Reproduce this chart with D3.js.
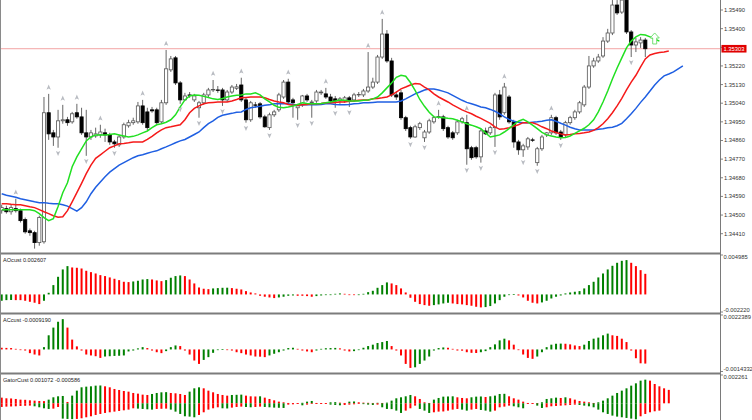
<!DOCTYPE html>
<html><head><meta charset="utf-8">
<script src="https://cdn.jsdelivr.net/npm/d3@7"></script>
<style>
html,body{margin:0;padding:0;background:#fff;}
svg{display:block;}
text{font-family:"Liberation Sans",Arial,sans-serif;}
</style></head><body>
<svg id="c" width="752" height="420"></svg>
<script>
// ---------- DATA ----------
const open = [1.34521,1.34531,1.34516,1.34531,1.34521,1.34478,1.34424,1.34415,1.34367,1.34371,
1.34994,1.34897,1.34877,1.34955,1.34960,1.34950,1.34994,1.34974,1.34897,1.34877,
1.34882,1.34887,1.34897,1.34887,1.34853,1.34839,1.34877,1.34931,1.34946,1.34950,
1.35027,1.34998,1.35008,1.35008,1.34950,1.35042,1.35201,1.35259,1.35138,1.35056,
1.35080,1.35056,1.35018,1.35042,1.35080,1.35104,1.35104,1.35104,1.35056,1.35094,
1.35112,1.35128,1.35056,1.34960,1.35032,1.35037,1.34974,1.34922,1.34984,1.35008,
1.35070,1.35142,1.35056,1.35018,1.35032,1.35075,1.35042,1.35051,1.35090,1.35085,
1.35070,1.35061,1.35051,1.35051,1.35066,1.35056,1.35080,1.35080,1.35099,1.35118,
1.35142,1.35263,1.35374,1.35244,1.35080,1.35090,1.34970,1.34922,1.34877,1.34922,
1.34873,1.34901,1.34950,1.34974,1.34974,1.34922,1.34897,1.34897,1.34950,1.34946,
1.34825,1.34825,1.34781,1.34906,1.34897,1.34922,1.35080,1.34994,1.35070,1.34950,
1.34853,1.34815,1.34829,1.34863,1.34753,1.34820,1.34887,1.34897,1.34970,1.34901,
1.34887,1.34946,1.34970,1.34998,1.35032,1.35118,1.35220,1.35244,1.35268,1.35340,
1.35379,1.35514,1.35480,1.35538,1.35384,1.35321,1.35331,1.35345];
const high = [1.34550,1.34545,1.34550,1.34579,1.34531,1.34488,1.34435,1.34424,1.34497,1.35070,
1.35085,1.34911,1.35008,1.35032,1.34974,1.34998,1.35037,1.35018,1.35008,1.34911,
1.34922,1.34936,1.34917,1.34897,1.34863,1.34887,1.34946,1.34960,1.34970,1.35046,
1.35056,1.35018,1.35022,1.35018,1.35056,1.35297,1.35268,1.35268,1.35147,1.35090,
1.35094,1.35085,1.35051,1.35090,1.35114,1.35152,1.35123,1.35114,1.35104,1.35128,
1.35133,1.35163,1.35066,1.35051,1.35046,1.35046,1.34984,1.34994,1.35008,1.35090,
1.35152,1.35158,1.35066,1.35037,1.35080,1.35085,1.35056,1.35104,1.35104,1.35114,
1.35085,1.35075,1.35070,1.35075,1.35075,1.35090,1.35094,1.35109,1.35287,1.35163,
1.35273,1.35447,1.35393,1.35259,1.35099,1.35104,1.34979,1.34931,1.34936,1.34950,
1.34911,1.34965,1.34979,1.35008,1.34984,1.34931,1.34906,1.34960,1.34974,1.34984,
1.34834,1.34834,1.34917,1.34922,1.34931,1.35090,1.35104,1.35138,1.35080,1.34960,
1.34863,1.34844,1.34877,1.34873,1.34829,1.34887,1.34901,1.34984,1.34979,1.34911,
1.34955,1.34979,1.35008,1.35051,1.35128,1.35268,1.35259,1.35278,1.35359,1.35399,
1.35538,1.35538,1.35552,1.35562,1.35393,1.35355,1.35359,1.35355];
const low = [1.34507,1.34507,1.34502,1.34512,1.34464,1.34410,1.34400,1.34338,1.34352,1.34362,
1.34863,1.34834,1.34825,1.34941,1.34931,1.34941,1.34965,1.34887,1.34786,1.34863,
1.34873,1.34873,1.34853,1.34839,1.34825,1.34829,1.34868,1.34922,1.34936,1.34941,
1.34936,1.34911,1.34994,1.34936,1.34941,1.35032,1.35191,1.35128,1.35037,1.35051,
1.35066,1.35046,1.34970,1.35032,1.35070,1.35094,1.35090,1.35027,1.35046,1.35085,
1.35104,1.35046,1.34946,1.34950,1.35018,1.34965,1.34922,1.34911,1.34974,1.34998,
1.35061,1.35037,1.34970,1.34960,1.35022,1.35046,1.34970,1.35042,1.35080,1.35061,
1.35042,1.35018,1.35037,1.35042,1.35022,1.35046,1.35070,1.35070,1.35090,1.35109,
1.35133,1.35254,1.35235,1.35070,1.35056,1.34960,1.34906,1.34868,1.34873,1.34911,
1.34853,1.34892,1.34941,1.34965,1.34906,1.34868,1.34863,1.34887,1.34941,1.34743,
1.34767,1.34772,1.34753,1.34887,1.34887,1.34829,1.34960,1.34984,1.34941,1.34825,
1.34791,1.34781,1.34815,1.34853,1.34738,1.34810,1.34877,1.34887,1.34887,1.34863,
1.34877,1.34936,1.34960,1.34989,1.35022,1.35109,1.35211,1.35235,1.35259,1.35331,
1.35369,1.35466,1.35471,1.35374,1.35263,1.35287,1.35307,1.35263];
const close = [1.34536,1.34516,1.34536,1.34521,1.34473,1.34419,1.34415,1.34367,1.34488,1.34994,
1.34892,1.34877,1.34955,1.34960,1.34946,1.34989,1.34974,1.34897,1.34877,1.34897,
1.34892,1.34901,1.34887,1.34853,1.34844,1.34877,1.34936,1.34946,1.34955,1.35027,
1.34946,1.34922,1.35003,1.34946,1.35042,1.35206,1.35254,1.35138,1.35056,1.35075,
1.35078,1.35075,1.35042,1.35080,1.35104,1.35106,1.35102,1.35056,1.35094,1.35118,
1.35119,1.35056,1.34960,1.35042,1.35030,1.34974,1.34926,1.34984,1.34998,1.35080,
1.35142,1.35046,1.35042,1.35027,1.35075,1.35056,1.35046,1.35094,1.35094,1.35070,
1.35051,1.35051,1.35061,1.35066,1.35051,1.35080,1.35082,1.35099,1.35118,1.35142,
1.35263,1.35374,1.35244,1.35080,1.35070,1.34970,1.34917,1.34877,1.34926,1.34941,
1.34901,1.34955,1.34970,1.34976,1.34917,1.34877,1.34873,1.34950,1.34965,1.34820,
1.34777,1.34781,1.34906,1.34892,1.34922,1.35080,1.34974,1.35118,1.34950,1.34853,
1.34815,1.34834,1.34868,1.34861,1.34820,1.34877,1.34897,1.34970,1.34897,1.34877,
1.34946,1.34970,1.34998,1.35042,1.35118,1.35220,1.35244,1.35263,1.35340,1.35379,
1.35514,1.35476,1.35538,1.35384,1.35321,1.35336,1.35345,1.35303];

// Alligator lines (displayed with their forward shift, so they extend past the last bar)
const jaw = [1.34603,1.34596,1.34591,1.34586,1.34579,1.34574,1.34569,1.34564,1.34560,1.34560,
1.34557,1.34555,1.34555,1.34550,1.34543,1.34531,1.34519,1.34536,1.34564,1.34603,
1.34634,1.34660,1.34685,1.34707,1.34724,1.34741,1.34753,1.34765,1.34777,1.34786,
1.34791,1.34798,1.34805,1.34810,1.34820,1.34829,1.34839,1.34849,1.34858,1.34865,
1.34877,1.34889,1.34901,1.34922,1.34941,1.34955,1.34972,1.34982,1.34987,1.34991,
1.34996,1.34998,1.35010,1.35018,1.35022,1.35025,1.35030,1.35032,1.35037,1.35037,
1.35037,1.35037,1.35034,1.35032,1.35032,1.35032,1.35032,1.35032,1.35034,1.35037,
1.35037,1.35034,1.35032,1.35032,1.35034,1.35037,1.35039,1.35042,1.35042,1.35044,
1.35046,1.35046,1.35046,1.35046,1.35046,1.35051,1.35061,1.35073,1.35085,1.35094,
1.35104,1.35109,1.35109,1.35104,1.35097,1.35090,1.35078,1.35066,1.35054,1.35044,
1.35037,1.35030,1.35022,1.35018,1.35010,1.35001,1.34989,1.34974,1.34962,1.34953,
1.34948,1.34946,1.34946,1.34948,1.34950,1.34953,1.34958,1.34960,1.34953,1.34943,
1.34934,1.34924,1.34917,1.34911,1.34911,1.34911,1.34911,1.34914,1.34917,1.34922,
1.34924,1.34931,1.34943,1.34965,1.34989,1.35015,1.35044,1.35070,1.35099,1.35128,
1.35152,1.35172,1.35181,1.35191,1.35206,1.35220];
const teeth = [1.34555,1.34555,1.34552,1.34550,1.34550,1.34545,1.34540,1.34536,1.34526,1.34516,
1.34507,1.34497,1.34490,1.34492,1.34521,1.34564,1.34608,1.34653,1.34700,1.34741,
1.34774,1.34791,1.34808,1.34825,1.34834,1.34844,1.34846,1.34849,1.34853,1.34853,
1.34853,1.34865,1.34880,1.34897,1.34911,1.34922,1.34926,1.34931,1.34936,1.34960,
1.34994,1.35015,1.35027,1.35037,1.35042,1.35044,1.35046,1.35046,1.35046,1.35051,
1.35058,1.35066,1.35068,1.35070,1.35070,1.35070,1.35066,1.35058,1.35051,1.35046,
1.35042,1.35034,1.35030,1.35030,1.35032,1.35034,1.35037,1.35037,1.35039,1.35042,
1.35042,1.35044,1.35046,1.35046,1.35049,1.35051,1.35054,1.35056,1.35056,1.35061,
1.35063,1.35066,1.35070,1.35080,1.35094,1.35109,1.35118,1.35128,1.35135,1.35133,
1.35118,1.35104,1.35085,1.35070,1.35058,1.35046,1.35032,1.35020,1.35008,1.34998,
1.34989,1.34977,1.34967,1.34955,1.34943,1.34926,1.34914,1.34917,1.34922,1.34929,
1.34936,1.34946,1.34946,1.34946,1.34938,1.34926,1.34917,1.34906,1.34899,1.34892,
1.34887,1.34889,1.34892,1.34894,1.34897,1.34901,1.34909,1.34922,1.34941,1.34965,
1.34994,1.35027,1.35063,1.35104,1.35142,1.35175,1.35215,1.35254,1.35273,1.35280,
1.35285,1.35287,1.35292];
const lips = [1.34526,1.34526,1.34526,1.34526,1.34526,1.34526,1.34526,1.34521,1.34507,1.34488,
1.34473,1.34483,1.34541,1.34608,1.34656,1.34733,1.34781,1.34820,1.34858,1.34877,
1.34887,1.34887,1.34887,1.34889,1.34892,1.34887,1.34882,1.34877,1.34880,1.34887,
1.34897,1.34906,1.34922,1.34936,1.34941,1.34948,1.34960,1.34984,1.35022,1.35056,
1.35075,1.35080,1.35078,1.35073,1.35068,1.35061,1.35058,1.35063,1.35070,1.35075,
1.35078,1.35080,1.35085,1.35085,1.35090,1.35080,1.35061,1.35046,1.35030,1.35020,
1.35018,1.35022,1.35027,1.35034,1.35042,1.35039,1.35037,1.35037,1.35039,1.35042,
1.35046,1.35051,1.35056,1.35054,1.35051,1.35051,1.35051,1.35054,1.35056,1.35061,
1.35070,1.35090,1.35114,1.35138,1.35165,1.35175,1.35170,1.35140,1.35102,1.35058,
1.35025,1.34996,1.34974,1.34972,1.34970,1.34967,1.34965,1.34958,1.34950,1.34941,
1.34934,1.34926,1.34917,1.34897,1.34877,1.34882,1.34887,1.34901,1.34917,1.34936,
1.34953,1.34962,1.34950,1.34934,1.34917,1.34899,1.34887,1.34882,1.34877,1.34873,
1.34875,1.34882,1.34894,1.34906,1.34919,1.34936,1.34960,1.34998,1.35046,1.35099,
1.35157,1.35210,1.35259,1.35307,1.35340,1.35360,1.35372,1.35369,1.35360,1.35350,
1.35340];

const fractalUp = [3,10,13,16,21,30,35,45,51,61,69,78,81,93,99,107,117];
const fractalDown = [12,18,24,38,42,47,52,57,63,66,71,74,87,90,99,102,105,111,114,119,134];
const signalUpIndex = [139];
const signalUpPrice = [1.35326];
const bidPrice = 1.35303;
const priceTicks = [1.34410,1.34500,1.34590,1.34680,1.34770,1.34860,1.34950,1.35040,1.35130,1.35220,1.35310,1.35400,1.35490];

const ao = [-0.00080,-0.00072,-0.00070,-0.00072,-0.00072,-0.00080,-0.00093,-0.00105,-0.00122,-0.00080,
0.00021,0.00118,0.00223,0.00316,0.00358,0.00341,0.00337,0.00328,0.00299,0.00282,
0.00265,0.00244,0.00232,0.00215,0.00198,0.00181,0.00160,0.00156,0.00164,0.00173,
0.00189,0.00194,0.00189,0.00177,0.00168,0.00181,0.00211,0.00232,0.00240,0.00232,
0.00189,0.00139,0.00088,0.00072,0.00067,0.00076,0.00080,0.00084,0.00085,0.00080,
0.00072,0.00063,0.00042,0.00025,0.00013,-0.00017,-0.00029,-0.00038,-0.00046,-0.00038,
-0.00029,-0.00017,-0.00013,-0.00017,-0.00017,-0.00021,-0.00029,-0.00021,-0.00013,-0.00008,
-0.00004,0.00008,0.00013,0.00008,-0.00004,-0.00008,-0.00004,0.00008,0.00029,0.00046,
0.00084,0.00118,0.00152,0.00139,0.00118,0.00076,0.00025,-0.00042,-0.00093,-0.00122,
-0.00135,-0.00143,-0.00135,-0.00126,-0.00114,-0.00105,-0.00114,-0.00122,-0.00126,-0.00135,
-0.00143,-0.00156,-0.00164,-0.00160,-0.00147,-0.00114,-0.00072,-0.00029,-0.00004,0.00002,
-0.00013,-0.00038,-0.00080,-0.00105,-0.00114,-0.00101,-0.00080,-0.00051,-0.00029,-0.00013,
0.00013,0.00025,0.00034,0.00042,0.00076,0.00118,0.00160,0.00215,0.00265,0.00316,
0.00362,0.00400,0.00425,0.00434,0.00400,0.00358,0.00307,0.002607];
const ac = [0.00011,0.00010,0.00009,0.00004,-0.00004,-0.00007,-0.00024,-0.00033,-0.00039,0.00015,
0.00092,0.00142,0.00180,0.00197,0.00142,0.00064,0.00020,-0.00007,-0.00033,-0.00039,
-0.00044,-0.00055,-0.00046,-0.00044,-0.00042,-0.00041,-0.00039,-0.00013,-0.00007,0.00007,
0.00015,0.00009,-0.00007,-0.00018,-0.00024,-0.00011,0.00015,0.00026,0.00022,-0.00007,
-0.00033,-0.00072,-0.00094,-0.00068,-0.00050,-0.00022,-0.00004,0.00002,-0.00002,-0.00007,
-0.00018,-0.00024,-0.00033,-0.00039,-0.00046,-0.00047,-0.00050,-0.00039,-0.00028,-0.00018,
-0.00007,0.00009,0.00011,0.00004,-0.00007,-0.00013,-0.00018,-0.00007,0.00004,0.00008,
0.00009,0.00010,0.00007,-0.00007,-0.00013,-0.00011,-0.00004,0.00011,0.00022,0.00031,
0.00042,0.00048,0.00055,0.00022,-0.00007,-0.00039,-0.00094,-0.00120,-0.00116,-0.00094,
-0.00072,-0.00046,-0.00007,0.00009,0.00013,0.00011,0.00004,-0.00007,-0.00008,-0.00018,
-0.00022,-0.00023,-0.00018,-0.00011,0.00015,0.00033,0.00059,0.00070,0.00059,0.00031,
-0.00002,-0.00033,-0.00055,-0.00061,-0.00046,-0.00018,0.00015,0.00031,0.00037,0.00038,
0.00037,0.00033,0.00026,0.00022,0.00031,0.00055,0.00070,0.00077,0.00092,0.00103,
0.00092,0.00088,0.00070,0.00048,-0.00007,-0.00057,-0.00090,-0.000919];
const gatorUp = [0.000452,0.000399,0.000386,0.000346,0.000293,0.000279,0.000239,0.000213,0.000186,0.000173,
0.000293,0.000479,0.000559,0.000585,0.000106,0.000612,0.001011,0.001277,0.00133,0.001357,
0.00141,0.001423,0.001357,0.001277,0.001144,0.001064,0.000984,0.000931,0.000825,0.000771,
0.000692,0.000665,0.000745,0.000825,0.000878,0.000891,0.000825,0.000798,0.000745,0.000665,
0.000931,0.001197,0.001277,0.001197,0.001011,0.000878,0.000745,0.000665,0.000612,0.000665,
0.000678,0.000692,0.000612,0.000559,0.000545,0.000559,0.000452,0.000346,0.000239,0.000133,
0.00008,0.000027,0.000021,0.000016,0.00004,0.000133,0.000186,0.000027,0.000021,0.000016,
0.00008,0.000093,0.000053,0.000027,0.000133,0.000146,0.00008,0.000053,0.00004,0.000027,
0.00004,0.000027,0.000053,0.000213,0.000399,0.000479,0.000559,0.000665,0.000559,0.000346,
0.00008,0.000027,0.000293,0.000426,0.000532,0.000545,0.000559,0.000479,0.000426,0.000399,
0.000479,0.000532,0.000545,0.000505,0.000559,0.000612,0.000745,0.000758,0.000559,0.000399,
0.000293,0.000133,0.000027,0.000021,0.000016,0.00008,0.000346,0.000399,0.000452,0.000426,
0.000479,0.000399,0.000293,0.000186,0.000133,0.00008,0.000027,0.00008,0.000213,0.000399,
0.000612,0.000825,0.001011,0.001197,0.00141,0.001596,0.001809,0.001889,0.001809,0.001543,
0.001357,0.001197,0.001072];
const gatorDown = [-0.000293,-0.000266,-0.000253,-0.000239,-0.000213,-0.0002,-0.000186,-0.000239,-0.000319,-0.000399,
-0.000452,-0.000426,-0.000293,-0.001224,-0.00125,-0.001264,-0.00125,-0.001197,-0.001117,-0.001037,
-0.000931,-0.000851,-0.000771,-0.000718,-0.000665,-0.000612,-0.000559,-0.000505,-0.000399,-0.000426,
-0.000452,-0.000479,-0.000505,-0.000452,-0.000439,-0.000426,-0.000505,-0.000665,-0.000851,-0.001037,
-0.001064,-0.001117,-0.000931,-0.000718,-0.000505,-0.000399,-0.000319,-0.000399,-0.000412,-0.000346,
-0.000293,-0.000266,-0.000293,-0.000319,-0.000293,-0.000266,-0.000293,-0.000319,-0.000346,-0.000359,
-0.000372,-0.000106,-0.00008,-0.000053,-0.00016,-0.000106,-0.000053,-0.00004,-0.000027,-0.000021,
-0.000106,-0.000133,-0.00016,-0.000133,-0.000106,-0.00008,-0.000053,-0.000067,-0.000106,-0.000133,
-0.000106,-0.000319,-0.000452,-0.000466,-0.000585,-0.000771,-0.000585,-0.000399,-0.000186,-0.000452,
-0.000585,-0.000771,-0.000718,-0.000665,-0.000652,-0.000585,-0.000505,-0.000452,-0.000505,-0.000585,
-0.000505,-0.000452,-0.000532,-0.000585,-0.000665,-0.000585,-0.000319,-0.000266,-0.000186,-0.000239,
-0.000319,-0.000399,-0.000053,-0.00004,-0.000186,-0.000372,-0.000319,-0.000239,-0.000213,-0.000186,
-0.00016,-0.000133,-0.000106,-0.000133,-0.000186,-0.000239,-0.000319,-0.000505,-0.000718,-0.000851,
-0.000984,-0.001064,-0.001117,-0.00117,-0.001224,-0.001277,-0.001037,-0.000851,-0.000718,-0.000638,
-0.000586];
const aoScaleLabels = [0.004985,-0.002220];
const acScaleLabels = [0.0022389,-0.0014332];
const gatorScaleLabels = [0.002261];

// ---------- DRAW ----------
const svg = d3.select("#c");
const AX = 720.5;
const GREEN = "#008000", RED = "#ff0000";
const x = d3.scaleLinear().domain([0, 137]).range([1.7, 645.3]);
const y = d3.scaleLinear().domain([1.34410, 1.35490]).range([233.7, 10]);
const yAO = d3.scaleLinear().domain([aoScaleLabels[1], aoScaleLabels[0]]).range([312, 255]);
const yAC = d3.scaleLinear().domain([acScaleLabels[1], acScaleLabels[0]]).range([371.5, 315]);
const yG = d3.scaleLinear().domain([0, gatorScaleLabels[0]]).range([403.3, 375]);

const defs = svg.append("defs");
defs.append("clipPath").attr("id","cm").append("rect").attr("x",0).attr("y",0).attr("width",AX).attr("height",252.5);
defs.append("clipPath").attr("id","cs").append("rect").attr("x",0).attr("y",254).attr("width",AX).attr("height",170);

const main = svg.append("g").attr("clip-path","url(#cm)");

// bid line
main.append("line").attr("x1",0).attr("x2",AX).attr("y1",y(bidPrice)).attr("y2",y(bidPrice))
  .attr("stroke","#f3a3a3").attr("stroke-width",1);

// candles
const idx = d3.range(open.length);
main.append("g").selectAll("line").data(idx).join("line")
  .attr("x1",i=>x(i)).attr("x2",i=>x(i))
  .attr("y1",i=>y(high[i])).attr("y2",i=>y(low[i]))
  .attr("stroke","#555").attr("stroke-width",0.9);
main.append("g").selectAll("rect").data(idx).join("rect")
  .attr("x",i=>x(i)-1.6).attr("width",3.2)
  .attr("y",i=>y(Math.max(open[i],close[i])))
  .attr("height",i=>Math.max(0.3, Math.abs(y(open[i])-y(close[i]))))
  .attr("fill",i=>close[i]>=open[i]?"#fff":"#000")
  .attr("stroke",i=>close[i]>=open[i]?"#555":"#000")
  .attr("stroke-width",0.8);

// alligator
const ln = d3.line().x((d,i)=>x(i)).y(d=>y(d));
[[jaw,"#1f5fe2"],[teeth,"#f51a1a"],[lips,"#22e022"]].forEach(([arr,col])=>{
  main.append("path").attr("d",ln(arr)).attr("fill","none").attr("stroke",col).attr("stroke-width",1.5);
});

// fractals
main.append("g").selectAll("path").data(fractalUp).join("path")
  .attr("transform",i=>`translate(${x(i)},${y(high[i])-6.5})`)
  .attr("d","M0,-2.8 L2.2,2.3 L0,1.2 L-2.2,2.3 Z")
  .attr("fill","#b9bcc2");
main.append("g").selectAll("path").data(fractalDown).join("path")
  .attr("transform",i=>`translate(${x(i)},${y(low[i])+5.5})`)
  .attr("d","M0,2.8 L2.2,-2.3 L0,-1.2 L-2.2,-2.3 Z")
  .attr("fill","#b9bcc2");

// signal arrow
main.append("g").selectAll("path").data(signalUpIndex).join("path")
  .attr("transform",(d,k)=>`translate(${x(d)},${y(signalUpPrice[k])})`)
  .attr("d","M0,-11 L4.6,-6 L2,-6 L2,0 L-2,0 L-2,-6 L-4.6,-6 Z")
  .attr("fill","#fff").attr("stroke","#66dd66").attr("stroke-width",0.9);

// sub-panels
const sub = svg.append("g").attr("clip-path","url(#cs)");
function colorsUp(v){ return v.map((d,i)=> i===0 ? (v[1]>v[0]?GREEN:RED) : (d>v[i-1]?GREEN:RED)); }
function colorsAbs(v){ return v.map((d,i)=> i===0 ? (Math.abs(v[1])>Math.abs(v[0])?GREEN:RED) : (Math.abs(d)>Math.abs(v[i-1])?GREEN:RED)); }
function bars(vals, ys, cols){
  const z = ys(0);
  sub.append("g").selectAll("rect").data(vals).join("rect")
    .attr("x",(d,i)=>x(i)-1).attr("width",2)
    .attr("y",d=>Math.min(z,ys(d)))
    .attr("height",d=>Math.max(0.7,Math.abs(ys(d)-z)))
    .attr("fill",(d,i)=>cols[i]);
}
bars(ao, yAO, colorsUp(ao));
bars(ac, yAC, colorsUp(ac));
bars(gatorUp, yG, colorsUp(gatorUp));
bars(gatorDown, yG, colorsAbs(gatorDown));

// separators, frame, axis
[253.5, 313.5, 373.5].forEach(yy=>{
  svg.append("line").attr("x1",0).attr("x2",AX).attr("y1",yy).attr("y2",yy).attr("stroke","#7c7c7c").attr("stroke-width",2);
});
svg.append("line").attr("x1",0.5).attr("x2",0.5).attr("y1",0).attr("y2",420).attr("stroke","#8a8a8a").attr("stroke-width",1);
svg.append("line").attr("x1",AX).attr("x2",AX).attr("y1",0).attr("y2",420).attr("stroke","#7a7a7a").attr("stroke-width",1);

const FS = 5.8;
const ax = svg.append("g");
priceTicks.forEach(t=>{
  ax.append("line").attr("x1",AX).attr("x2",AX+2.5).attr("y1",y(t)).attr("y2",y(t)).attr("stroke","#666").attr("stroke-width",0.8);
  ax.append("text").attr("x",724).attr("y",y(t)+2).attr("font-size",FS).attr("fill","#333").text(t.toFixed(5));
});
// bid box
ax.append("rect").attr("x",721.5).attr("y",y(bidPrice)-3.8).attr("width",25).attr("height",7.6).attr("fill","#e00000");
ax.append("text").attr("x",723.5).attr("y",y(bidPrice)+2).attr("font-size",FS).attr("fill","#fff").text(bidPrice.toFixed(5));

// sub-panel scale labels
function scaleLabel(v, yy, dec, top){
  const yv = yy(v);
  ax.append("line").attr("x1",AX).attr("x2",AX+2.5).attr("y1",yv).attr("y2",yv).attr("stroke","#666").attr("stroke-width",0.8);
  ax.append("text").attr("x",723.5).attr("y",top? yv+3.9 : yv-0.3).attr("font-size",FS).attr("fill","#333").text(v.toFixed(dec));
}
scaleLabel(aoScaleLabels[0], yAO, 6, true);
scaleLabel(aoScaleLabels[1], yAO, 6, false);
scaleLabel(acScaleLabels[0], yAC, 7, true);
scaleLabel(acScaleLabels[1], yAC, 7, false);
scaleLabel(gatorScaleLabels[0], yG, 6, true);

// panel titles
const tt = svg.append("g").attr("font-size",5.6).attr("fill","#222");
tt.append("text").attr("x",3).attr("y",262.3).text("AOcust " + ao[ao.length-1].toFixed(6));
tt.append("text").attr("x",3).attr("y",322).text("ACcust " + ac[ac.length-1].toFixed(7));
tt.append("text").attr("x",3).attr("y",381.5).text("GatorCust " + gatorUp[gatorUp.length-1].toFixed(6) + " " + gatorDown[gatorDown.length-1].toFixed(6));
</script>
</body></html>
